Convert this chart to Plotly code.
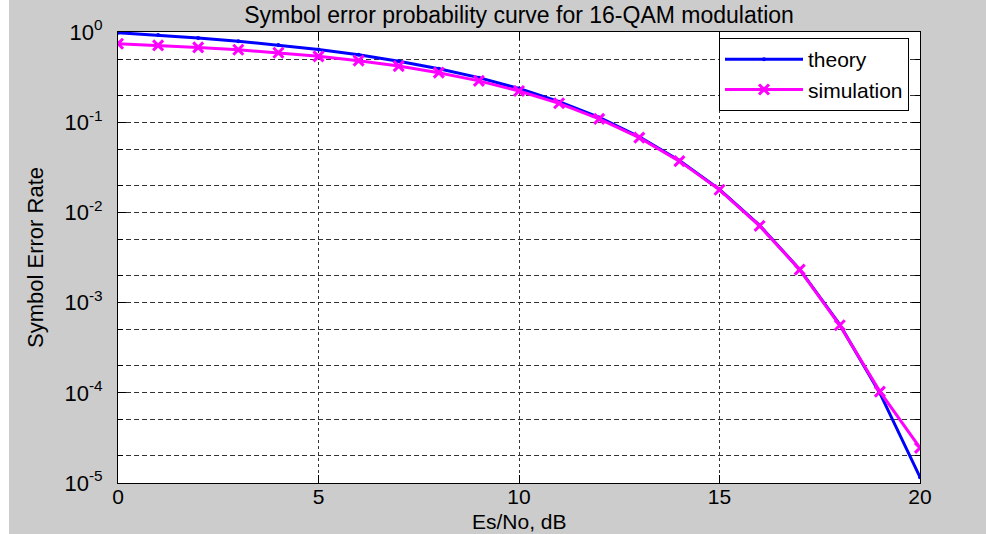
import plotly.graph_objects as go

# ---- data ----
snr_db = [0, 1, 2, 3, 4, 5, 6, 7, 8, 9, 10, 11, 12, 13, 14, 15, 16, 17, 18, 19, 20]
theory = [0.982, 0.924, 0.860, 0.791, 0.718, 0.640, 0.559, 0.475, 0.392, 0.312,
          0.236, 0.169, 0.113, 0.0687, 0.0375, 0.0180, 0.00717, 0.00233,
          5.7e-4, 9.9e-5, 1.16e-5]
simulation = [0.741, 0.710, 0.675, 0.636, 0.589, 0.537, 0.481, 0.419, 0.354, 0.287,
              0.222, 0.162, 0.109, 0.0674, 0.0370, 0.0178, 0.00710, 0.00232,
              5.6e-4, 1.03e-4, 2.45e-5]
x_ticks = [0, 5, 10, 15, 20]
y_tickvals = [1, 1e-1, 1e-2, 1e-3, 1e-4, 1e-5]
y_ticktext = ["10<sup>0</sup>", "10<sup>-1</sup>", "10<sup>-2</sup>",
              "10<sup>-3</sup>", "10<sup>-4</sup>", "10<sup>-5</sup>"]

FONT = "Liberation Sans, Arial, sans-serif"
GRID = "#333333"
FS = 22

fig = go.Figure()
fig.add_trace(go.Scatter(
    x=snr_db, y=theory, name="theory", mode="lines+markers",
    line=dict(color="#0000ff", width=3),
    marker=dict(symbol="circle", size=4, color="#0000ff"),
))
fig.add_trace(go.Scatter(
    x=snr_db, y=simulation, name="simulation", mode="lines+markers",
    line=dict(color="#ff00ff", width=3),
    marker=dict(symbol="x-thin-open", size=10, color="#ff00ff",
                line=dict(color="#ff00ff", width=3)),
))

L, R, T, B = 118, 66, 32, 51
W, H = 986, 534
pw, ph = W - L - R, H - T - B

fig.update_layout(
    width=W, height=H,
    margin=dict(l=L, r=R, t=T, b=B, pad=0, autoexpand=False),
    paper_bgcolor="#cccccc",
    plot_bgcolor="#ffffff",
    font=dict(family=FONT, size=FS, color="#000000"),
    title=dict(text="Symbol error probability curve for 16-QAM modulation",
               x=(L + pw / 2) / W, xanchor="center", y=1 - 15 / H, yanchor="middle",
               font=dict(family=FONT, size=23, color="#000000")),
    showlegend=True,
    legend=dict(x=(909 - L) / pw, xanchor="right", y=(H - B - 38) / ph, yanchor="top",
                bgcolor="#ffffff", bordercolor="#000000", borderwidth=1,
                font=dict(family=FONT, size=21, color="#000000"),
                itemwidth=78, tracegroupgap=0),
    annotations=[
        dict(text="Es/No, dB", xref="paper", yref="paper", x=0.5, xanchor="center",
             y=(H - B - 521) / ph, yanchor="middle", showarrow=False, borderpad=0,
             font=dict(family=FONT, size=21, color="#000000")),
    ],
    shapes=[
        dict(type="rect", xref="paper", yref="paper",
             x0=-L / pw - 0.01, x1=(9 - L) / pw, y0=-B / ph - 0.02, y1=(H - B) / ph + 0.02,
             fillcolor="#ffffff", line=dict(width=0), layer="above"),
    ],
)

fig.update_xaxes(
    range=[0, 20], tickvals=x_ticks, ticktext=[str(v) for v in x_ticks],
    ticks="inside", ticklen=8, tickcolor="#000000", mirror="allticks",
    showline=True, linecolor="#000000", linewidth=1,
    showgrid=True, gridcolor=GRID, griddash="3px,3px", gridwidth=1,
    zeroline=False, ticklabelstandoff=-5, automargin=False,
    tickfont=dict(family=FONT, size=21, color="#000000"),
)
fig.update_yaxes(
    type="log", range=[-5, 0], tickvals=y_tickvals, ticktext=y_ticktext,
    ticks="inside", ticklen=8, tickcolor="#000000", mirror="allticks",
    showline=True, linecolor="#000000", linewidth=1,
    showgrid=True, gridcolor=GRID, griddash="5px,3px", gridwidth=1,
    minor=dict(ticks="inside", ticklen=5, tickcolor="#000000", showgrid=True,
               gridcolor=GRID, griddash="5px,3px", gridwidth=1),
    zeroline=False, ticklabelstandoff=10, automargin=False,
    title=dict(text="Symbol Error Rate", standoff=14, font=dict(family=FONT, size=FS)),
    tickfont=dict(family=FONT, size=FS, color="#000000"),
)

fig.write_html("out.html", config={"displayModeBar": False},
               post_script="document.body.style.margin='0px';")
